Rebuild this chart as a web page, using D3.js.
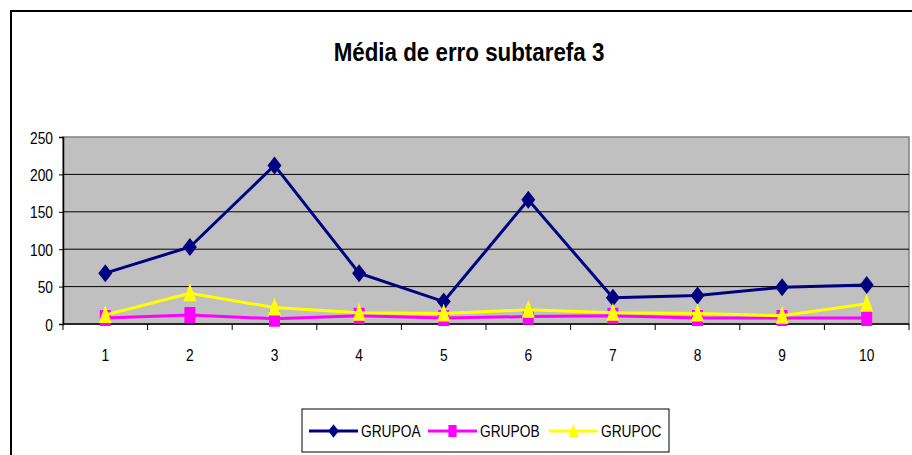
<!DOCTYPE html>
<html lang="en">
<head>
  <meta charset="UTF-8">
  <script src="https://d3js.org/d3.v7.min.js"></script>
  <title>Média de erro subtarefa 3</title>
  <style>
    body { margin: 0; background: #fff; }
    text { font-family: "Liberation Sans Narrow", "Arial Narrow", "Liberation Sans", Arial, sans-serif; }
  </style>
</head>
<body>
  <div id="chart"></div>
  <script>
    const categories = ['1', '2', '3', '4', '5', '6', '7', '8', '9', '10'];
    const grupoA = [68, 103, 212, 68, 30, 166, 35, 38, 49, 52];
    const grupoB = [8, 12, 7, 11, 8, 10, 11, 8, 8, 8];
    const grupoC = [12, 41, 22, 15, 14, 19, 15, 14, 11, 27];
    const yTicks = [0, 50, 100, 150, 200, 250];
    const seriesNames = ['GRUPOA', 'GRUPOB', 'GRUPOC'];

    const series = [
      { name: seriesNames[0], values: grupoA, color: '#000080', marker: 'diamond' },
      { name: seriesNames[1], values: grupoB, color: '#ff00ff', marker: 'square' },
      { name: seriesNames[2], values: grupoC, color: '#ffff00', marker: 'triangle' }
    ];

    const W = 912, H = 455;
    const plot = { left: 63, right: 909, top: 137, bottom: 324 };
    const narrow = 0.86; // no narrow font installed, so squeeze text horizontally

    const svg = d3.select('#chart').append('svg')
      .attr('width', W)
      .attr('height', H);

    // places a horizontally squeezed text at (tx, ty)
    const squeezed = (parent, tx, ty, size, anchor, label) => parent.append('text')
      .attr('transform', `translate(${tx},${ty}) scale(${narrow},1)`)
      .attr('text-anchor', anchor)
      .attr('font-size', size)
      .attr('fill', '#000')
      .text(label);

    // outer chart frame (only top and left edges are visible)
    svg.append('path')
      .attr('d', `M11,${H} V11 H${W}`)
      .attr('fill', 'none')
      .attr('stroke', '#000')
      .attr('stroke-width', 2);

    squeezed(svg, 469, 61, 26, 'middle', 'Média de erro subtarefa 3')
      .attr('font-weight', 'bold');

    const x = d3.scaleBand().domain(categories).range([plot.left, plot.right]);
    const y = d3.scaleLinear().domain([0, 250]).range([plot.bottom, plot.top]);

    // plot background
    svg.append('rect')
      .attr('x', plot.left)
      .attr('y', plot.top)
      .attr('width', plot.right - plot.left)
      .attr('height', plot.bottom - plot.top)
      .attr('fill', '#c0c0c0')
      .attr('stroke', '#808080')
      .attr('stroke-width', 1.5);

    // gridlines
    svg.append('g')
      .selectAll('line')
      .data(yTicks.filter(d => d > 0 && d < 250))
      .enter()
      .append('line')
      .attr('x1', plot.left)
      .attr('x2', plot.right)
      .attr('y1', d => y(d))
      .attr('y2', d => y(d))
      .attr('stroke', '#000')
      .attr('stroke-width', 1);

    // y axis
    const yAxis = svg.append('g')
      .attr('transform', `translate(${plot.left},0)`)
      .call(d3.axisLeft(y).tickValues(yTicks).tickSize(4).tickFormat(''));
    yAxis.select('.domain').attr('stroke', '#000').attr('stroke-width', 1.5);
    yAxis.selectAll('.tick line').attr('stroke', '#000');
    yAxis.selectAll('.tick').each(function (d) {
      squeezed(d3.select(this), -10, 6, 16, 'end', d);
    });

    // x axis with ticks at category boundaries
    const xAxis = svg.append('g')
      .attr('transform', `translate(0,${plot.bottom})`);
    xAxis.append('line')
      .attr('x1', plot.left)
      .attr('x2', plot.right)
      .attr('stroke', '#000')
      .attr('stroke-width', 1.5);
    const bounds = categories.map(c => x(c)).concat([plot.right]);
    xAxis.selectAll('line.tk')
      .data(bounds)
      .enter()
      .append('line')
      .attr('class', 'tk')
      .attr('x1', d => d)
      .attr('x2', d => d)
      .attr('y1', 0)
      .attr('y2', 6)
      .attr('stroke', '#000');
    categories.forEach(c => {
      squeezed(xAxis, x(c) + x.bandwidth() / 2, 37, 16, 'middle', c);
    });

    const markerPath = (type) => {
      if (type === 'diamond') return 'M0,-9 L7,0 L0,9 L-7,0 Z';
      if (type === 'square') return 'M-5.5,-8 H5.5 V8 H-5.5 Z';
      return 'M0,-10 L6.5,8 L-6.5,8 Z';
    };

    const line = d3.line()
      .x((d, i) => x(categories[i]) + x.bandwidth() / 2)
      .y(d => y(d));

    series.forEach(s => {
      const g = svg.append('g');
      g.append('path')
        .attr('d', line(s.values))
        .attr('fill', 'none')
        .attr('stroke', s.color)
        .attr('stroke-width', 3);
      g.selectAll('path.mk')
        .data(s.values)
        .enter()
        .append('path')
        .attr('class', 'mk')
        .attr('transform', (d, i) => `translate(${x(categories[i]) + x.bandwidth() / 2},${y(d)})`)
        .attr('d', markerPath(s.marker))
        .attr('fill', s.color);
    });

    // legend
    const legend = svg.append('g');
    legend.append('rect')
      .attr('x', 302)
      .attr('y', 409)
      .attr('width', 367)
      .attr('height', 43)
      .attr('fill', '#fff')
      .attr('stroke', '#000')
      .attr('stroke-width', 1);
    const legendX = [309, 428, 549];
    series.forEach((s, i) => {
      const lx = legendX[i];
      legend.append('line')
        .attr('x1', lx)
        .attr('x2', lx + 49)
        .attr('y1', 431)
        .attr('y2', 431)
        .attr('stroke', s.color)
        .attr('stroke-width', 3);
      legend.append('path')
        .attr('transform', `translate(${lx + 24.5},431) scale(0.75)`)
        .attr('d', markerPath(s.marker))
        .attr('fill', s.color);
      squeezed(legend, lx + 52, 437, 16, 'start', s.name);
    });
  </script>
</body>
</html>
